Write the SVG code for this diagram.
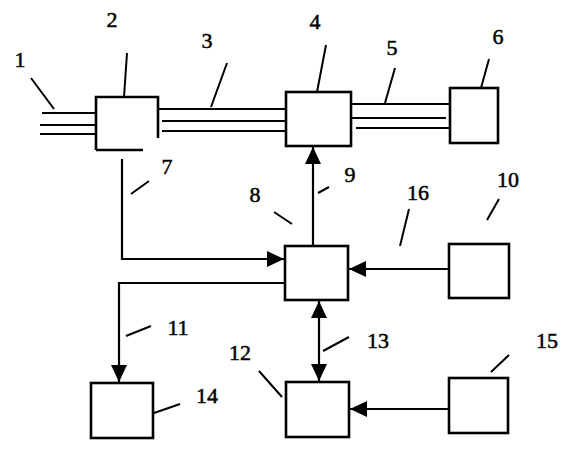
<svg xmlns="http://www.w3.org/2000/svg" width="566" height="450" viewBox="0 0 566 450">
<style>
.box{fill:none;stroke:#000;stroke-width:2.6}
.ln{fill:none;stroke:#000;stroke-width:2.2}
.ld{fill:none;stroke:#000;stroke-width:2}
.t{font-family:"Liberation Serif",serif;font-size:22px;fill:#000;stroke:#000;stroke-width:0.5;text-anchor:middle}
</style>
<defs>
<marker id="ah" viewBox="0 0 17 16" refX="17" refY="8" markerWidth="17" markerHeight="16" markerUnits="userSpaceOnUse" orient="auto-start-reverse">
<path d="M0,0 L17,8 L0,16 Z" fill="#000"/>
</marker>
</defs>
<rect width="566" height="450" fill="#fff"/>
<g id="connectors">
<path class="ln" d="M42,113 H96 M40,125 H96 M40,134 H96"/>
<path class="ln" d="M158,109 H286 M162,121 H286 M162,131 H286"/>
<path class="ln" d="M351,104 H450 M351,118 H446 M356,128 H450"/>
<path class="ln" d="M122,159 V259 H284" marker-end="url(#ah)"/>
<path class="ln" d="M313,246 V147" marker-end="url(#ah)"/>
<path class="ln" d="M449,269 H349" marker-end="url(#ah)"/>
<path class="ln" d="M285,283 H119 V382" marker-end="url(#ah)"/>
<path class="ln" d="M319,301 V381" marker-start="url(#ah)" marker-end="url(#ah)"/>
<path class="ln" d="M449,409 H350" marker-end="url(#ah)"/>
<path class="ld" d="M31,78 L54,109 M127,53 L124,97 M227,63 L211,107 M326,45 L317,92 M395,68 L385,103 M489,59 L481,88 M149,181 L131,194 M274,212 L292,224 M329,187 L318,193 M409,209 L400,246 M499,199 L487,220 M126,336 L151,326 M154,413 L180,404 M259,371 L282,397 M323,351 L349,337 M509,355 L491,372"/>
</g>
<g id="n2"><path class="box" d="M96,150 V97 H158 V138 M96,150 H143"/></g>
<g id="n4"><rect class="box" x="286" y="92" width="65" height="54"/></g>
<g id="n6"><rect class="box" x="450" y="88" width="48" height="55"/></g>
<g id="n8"><rect class="box" x="285" y="246" width="63" height="54"/></g>
<g id="n10"><rect class="box" x="449" y="244" width="60" height="54"/></g>
<g id="n12"><rect class="box" x="286" y="382" width="63" height="55"/></g>
<g id="n14"><rect class="box" x="91" y="383" width="62" height="55"/></g>
<g id="n15"><rect class="box" x="449" y="378" width="59" height="55"/></g>
<g id="labels">
<text class="t" x="20" y="67">1</text>
<text class="t" x="112" y="27">2</text>
<text class="t" x="207" y="48">3</text>
<text class="t" x="315" y="29">4</text>
<text class="t" x="392" y="55">5</text>
<text class="t" x="498" y="44">6</text>
<text class="t" x="167" y="174">7</text>
<text class="t" x="255" y="202">8</text>
<text class="t" x="350" y="182">9</text>
<text class="t" x="508" y="187">10</text>
<text class="t" x="178" y="335">11</text>
<text class="t" x="240" y="360">12</text>
<text class="t" x="378" y="348">13</text>
<text class="t" x="207" y="403">14</text>
<text class="t" x="547" y="348">15</text>
<text class="t" x="418" y="200">16</text>
</g>
</svg>
